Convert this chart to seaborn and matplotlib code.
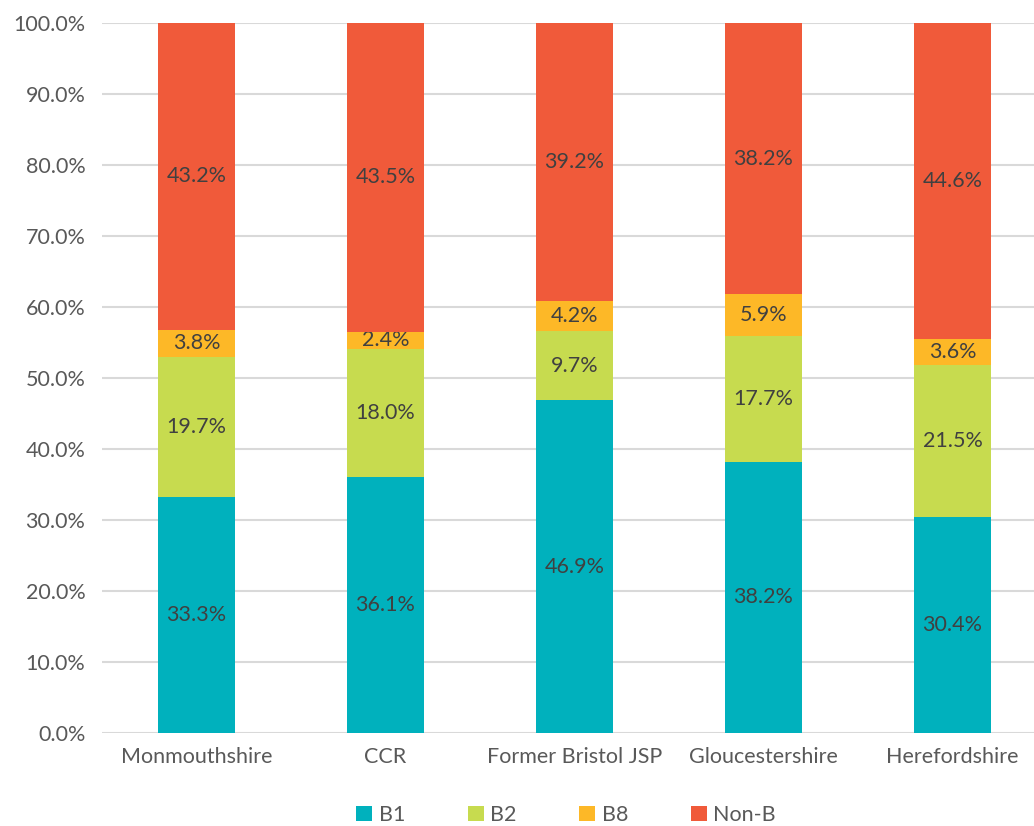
import matplotlib
matplotlib.use("Agg")
import matplotlib.pyplot as plt
import seaborn as sns
import numpy as np

# Employment land share by use class
areas = ["Monmouthshire", "CCR", "Former Bristol JSP", "Gloucestershire", "Herefordshire"]
series = ["B1", "B2", "B8", "Non-B"]
b1 = [33.3, 36.1, 46.9, 38.2, 30.4]
b2 = [19.7, 18.0, 9.7, 17.7, 21.5]
b8 = [3.8, 2.4, 4.2, 5.9, 3.6]
non_b = [43.2, 43.5, 39.2, 38.2, 44.6]
colours = ["#00B1BD", "#C7DB4F", "#FDB827", "#F05A3A"]

sns.set_theme(style="white")
plt.rcParams["font.family"] = ["Lato", "DejaVu Sans"]

fig = plt.figure(figsize=(10.34, 8.26), dpi=100)
ax = fig.add_axes([102 / 1034, 1 - 733 / 826, 932 / 1034, 710 / 826])

bottom = np.zeros(len(areas))
for name, vals, col in zip(series, [b1, b2, b8, non_b], colours):
    sns.barplot(x=areas, y=vals, bottom=bottom, color=col, width=0.41,
                ax=ax, label=name, saturation=1, zorder=3, linewidth=0)
    cont = ax.containers[-1]
    ax.bar_label(cont, labels=[f"{v:.1f}%" for v in vals], label_type="center",
                 fontsize=15.5, color="#404040")
    bottom += np.array(vals)

ax.set_ylim(0, 100)
ax.set_xlim(-0.5, -0.5 + 932 / 189)
ax.set_yticks(np.arange(0, 101, 10))
ax.set_yticklabels([f"{v:.1f}%" for v in range(0, 101, 10)])
ax.yaxis.grid(True, color="#D9D9D9", linewidth=1.5, zorder=0)
ax.tick_params(axis="both", labelsize=15.5, colors="#595959", length=0)
ax.tick_params(axis="x", pad=10)
ax.tick_params(axis="y", pad=12)
for s in ax.spines.values():
    s.set_visible(False)
ax.set_xlabel("")
ax.set_ylabel("")

handles, labels = ax.get_legend_handles_labels()
ax.get_legend().remove()
fig.legend(handles, labels, loc="center", bbox_to_anchor=(566 / 1034, 1 - 815 / 826),
           ncol=4, frameon=False, fontsize=15.5, handlelength=0.75, handleheight=0.75,
           columnspacing=2.9, handletextpad=0.3, labelcolor="#595959")

fig.savefig("out.png", dpi=100)
